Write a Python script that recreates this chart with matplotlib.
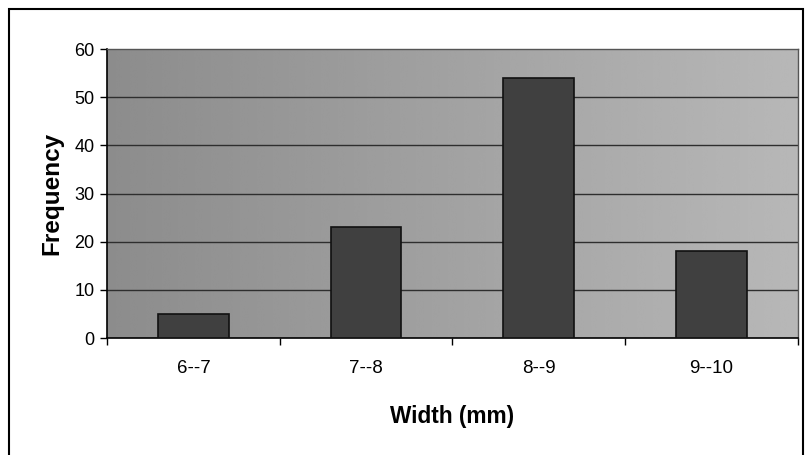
import matplotlib
matplotlib.use("Agg")
import matplotlib.pyplot as plt
from matplotlib.patches import Rectangle
import numpy as np

categories = ["6--7", "7--8", "8--9", "9--10"]
frequency = [5, 23, 54, 18]
y_ticks = [0, 10, 20, 30, 40, 50, 60]

plt.rcParams["font.family"] = ["Liberation Sans", "DejaVu Sans"]

fig = plt.figure(figsize=(8.05, 4.55), dpi=100)
fig.patch.set_facecolor("white")
ax = fig.add_axes([0.133, 0.257, 0.858, 0.635])

# grey plot background, a bit darker on the left like the scan
grad = np.linspace(0.0, 1.0, 256).reshape(1, -1)
ax.imshow(grad, extent=[-0.5, 3.5, 0, 60], aspect="auto", cmap="gray",
          vmin=-3.24, vmax=2.65, zorder=0, interpolation="bicubic")

x = np.arange(len(categories))
ax.bar(x, frequency, width=0.41, color="#404040", edgecolor="#111111",
       linewidth=1.2, zorder=3)

ax.set_xlim(-0.5, 3.5)
ax.set_ylim(0, 60)
ax.set_yticks(y_ticks)
ax.set_yticklabels([str(v) for v in y_ticks], fontsize=13)
ax.set_xticks(x)
ax.set_xticklabels(categories, fontsize=13.5)
ax.tick_params(axis="x", length=0, pad=16)
ax.set_xticks(np.arange(-0.5, 4.0, 1.0), minor=True)
ax.tick_params(axis="x", which="minor", length=5, width=1, color="black")
ax.tick_params(axis="y", length=5, width=1, color="black", pad=4)

for v in y_ticks[1:-1]:
    ax.axhline(v, color="#2e2e2e", linewidth=1.0, zorder=2)

for s in ("top", "right"):
    ax.spines[s].set_color("#555555")
    ax.spines[s].set_linewidth(1.0)
for s in ("left", "bottom"):
    ax.spines[s].set_color("black")
    ax.spines[s].set_linewidth(1.2)

ax.set_ylabel("Frequency", fontsize=17.5, fontweight="bold", labelpad=8)
ax.set_xlabel("Width (mm)", fontsize=16.3, fontweight="bold", labelpad=20)

fig.patches.append(Rectangle((0.011, -0.02), 0.987, 1.0, transform=fig.transFigure,
                             fill=False, edgecolor="black", linewidth=1.5))

fig.savefig("out.png", dpi=100)
